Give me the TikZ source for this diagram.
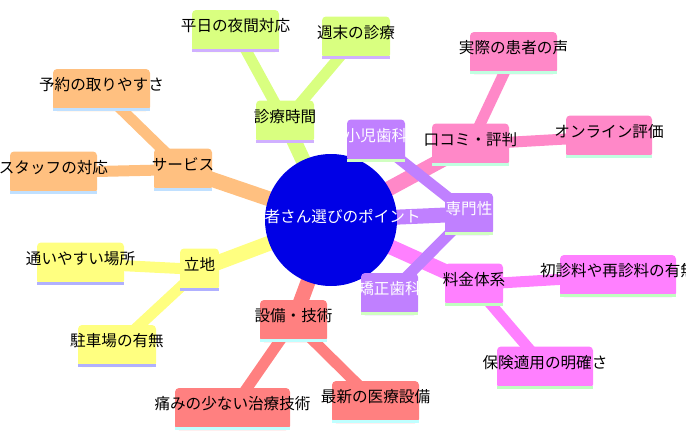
\documentclass[tikz,border=0pt]{standalone}
\usepackage{fontspec}
\newfontfamily\jpfont{Noto Sans CJK JP}
\usetikzlibrary{backgrounds}
\definecolor{cHub}{RGB}{0,0,230}
\definecolor{cJikan}{RGB}{217,255,128}\definecolor{cJikanS}{RGB}{208,176,255}
\definecolor{cService}{RGB}{255,192,128}\definecolor{cServiceS}{RGB}{192,224,255}
\definecolor{cRicchi}{RGB}{255,255,128}\definecolor{cRicchiS}{RGB}{176,176,255}
\definecolor{cSetsubi}{RGB}{255,128,128}\definecolor{cSetsubiS}{RGB}{192,255,255}
\definecolor{cKuchikomi}{RGB}{255,136,200}\definecolor{cKuchikomiS}{RGB}{192,255,224}
\definecolor{cSenmon}{RGB}{192,128,255}\definecolor{cSenmonS}{RGB}{208,255,192}
\definecolor{cRyokin}{RGB}{255,128,255}\definecolor{cRyokinS}{RGB}{192,255,192}
\newcommand{\mmnode}[6][]{\node[mmbox, minimum width=#4, fill=#5] (#2) at #3 {};\fill[#5S] ([yshift=3pt]#2.south west) rectangle (#2.south east);\node[mmtext, #1] (#2-t) at ([yshift=5pt]#2.center) {#6};}
\tikzset{
  hub/.style={circle, fill=cHub, minimum size=132pt, inner sep=0pt},
  mmbox/.style={rectangle, rounded corners=4pt, minimum height=42pt, inner sep=0pt},
  mmtext/.style={font=\jpfont\fontsize{15.6}{18}\selectfont, inner sep=0pt},
  trunk/.style={line width=15pt},
  twig/.style={line width=11pt}
}

\begin{document}
\begin{tikzpicture}[x=1pt, y=-1pt]
\useasboundingbox (0,0) rectangle (686,439);
\node[hub] (hub) at (331,220) {};
\node[mmtext, text=white] (hub-t) at (327,217) {歯医者さん選びのポイント};
% 診療時間
\mmnode{jikan}{(285,121.5)}{58pt}{cJikan}{診療時間}
\mmnode{heijitsu}{(235.5,31)}{87pt}{cJikan}{平日の夜間対応}
\mmnode{shumatsu}{(356,37.5)}{68pt}{cJikan}{週末の診療}
% サービス
\mmnode{service}{(183,169.5)}{58pt}{cService}{サービス}
\mmnode{yoyaku}{(101.5,90)}{97pt}{cService}{予約の取りやすさ}
\mmnode{staff}{(53.5,172.5)}{87pt}{cService}{スタッフの対応}
% 立地
\mmnode{ricchi}{(199.5,269.5)}{39pt}{cRicchi}{立地}
\mmnode{kayoi}{(80.5,263.5)}{87pt}{cRicchi}{通いやすい場所}
\mmnode{chusha}{(117,346)}{78pt}{cRicchi}{駐車場の有無}
% 設備・技術
\mmnode{setsubi}{(293.5,321)}{67pt}{cSetsubi}{設備・技術}
\mmnode{itami}{(232.5,409)}{115pt}{cSetsubi}{痛みの少ない治療技術}
\mmnode{saishin}{(375.5,402)}{87pt}{cSetsubi}{最新の医療設備}
% 口コミ・評判
\mmnode{kuchikomi}{(470.5,144.5)}{77pt}{cKuchikomi}{口コミ・評判}
\mmnode{jissai}{(513.5,53)}{87pt}{cKuchikomi}{実際の患者の声}
\mmnode{online}{(609,136.5)}{86pt}{cKuchikomi}{オンライン評価}
% 専門性
\mmnode[text=white]{senmon}{(469,214)}{48pt}{cSenmon}{専門性}
\mmnode[text=white]{shoni}{(376,140.5)}{58pt}{cSenmon}{小児歯科}
\mmnode[text=white]{kyosei}{(389.5,294)}{57pt}{cSenmon}{矯正歯科}
% 料金体系
\mmnode{ryokin}{(474,284.5)}{58pt}{cRyokin}{料金体系}
\mmnode{shoshin}{(618,276)}{116pt}{cRyokin}{初診料や再診料の有無}
\mmnode{hoken}{(545,367.5)}{96pt}{cRyokin}{保険適用の明確さ}
\begin{scope}[on background layer]
\draw[trunk, cJikan] (hub.center) -- (jikan.center);
\draw[trunk, cService] (hub.center) -- (service.center);
\draw[trunk, cRicchi] (hub.center) -- (ricchi.center);
\draw[trunk, cSetsubi] (hub.center) -- (setsubi.center);
\draw[trunk, cKuchikomi] (hub.center) -- (kuchikomi.center);
\draw[trunk, cSenmon] (hub.center) -- (senmon.center);
\draw[trunk, cRyokin] (hub.center) -- (ryokin.center);
\draw[twig, cJikan] (jikan.center) -- (heijitsu.center);
\draw[twig, cJikan] (jikan.center) -- (shumatsu.center);
\draw[twig, cService] (service.center) -- (yoyaku.center);
\draw[twig, cService] (service.center) -- (staff.center);
\draw[twig, cRicchi] (ricchi.center) -- (kayoi.center);
\draw[twig, cRicchi] (ricchi.center) -- (chusha.center);
\draw[twig, cSetsubi] (setsubi.center) -- (itami.center);
\draw[twig, cSetsubi] (setsubi.center) -- (saishin.center);
\draw[twig, cKuchikomi] (kuchikomi.center) -- (jissai.center);
\draw[twig, cKuchikomi] (kuchikomi.center) -- (online.center);
\draw[twig, cSenmon] (senmon.center) -- (shoni.center);
\draw[twig, cSenmon] (senmon.center) -- (kyosei.center);
\draw[twig, cRyokin] (ryokin.center) -- (shoshin.center);
\draw[twig, cRyokin] (ryokin.center) -- (hoken.center);
\end{scope}
\end{tikzpicture}
\end{document}
